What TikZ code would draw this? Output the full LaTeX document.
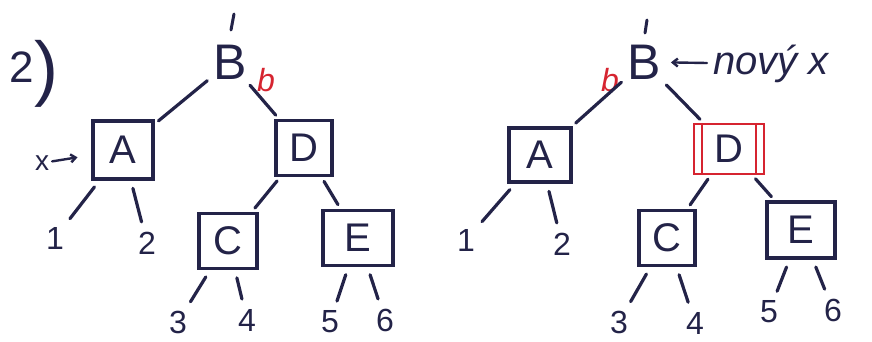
\documentclass[tikz,border=0pt]{standalone}
\usepackage{fontspec}
\setmainfont{Liberation Sans}
\usetikzlibrary{arrows.meta}
\definecolor{ink}{RGB}{35,35,72}
\definecolor{redink}{RGB}{214,36,48}
\begin{document}
\begin{tikzpicture}[x=1pt,y=-1pt,
  box/.style={draw=ink, line width=3.2pt, rectangle, inner sep=0pt, text=ink,
    font=\fontsize{40}{40}\selectfont},
  redbox/.style={draw=redink, line width=2.2pt, rectangle, inner sep=0pt, text=ink,
    font=\fontsize{40}{40}\selectfont},
  leaf/.style={text=ink, font=\fontsize{32}{32}\selectfont, inner sep=1pt},
  rootnode/.style={text=ink, font=\fontsize{50}{50}\selectfont, inner sep=2pt},
  edge/.style={draw=ink, line width=3.2pt, line cap=round, shorten >=5pt, shorten <=5pt},
  leafedge/.style={draw=ink, line width=3.2pt, line cap=round, shorten >=9pt, shorten <=8pt},
  tick/.style={draw=ink, line width=3pt, line cap=round},
  redlabel/.style={text=redink, font=\itshape\fontsize{32}{32}\selectfont, inner sep=0pt},
  note/.style={text=ink, font=\itshape\fontsize{40}{40}\selectfont, inner sep=1pt},
  pointer/.style={draw=ink, line width=2.4pt, line cap=round, -{Straight Barb[length=5pt,width=8pt]}},
]
\useasboundingbox (0,0) rectangle (872,341);

% ---------- left tree ----------
\node[text=ink, inner sep=1pt, font=\fontsize{44}{44}\selectfont] (num) at (34,74)
  {2\raisebox{-10pt}{\fontsize{72}{72}\selectfont )}};
\node[rootnode] (B) at (230,62) {B};
\coordinate (Bt1) at (234,14);
\coordinate (Bt2) at (231,30);
\draw[tick] (Bt1) -- (Bt2);
\node[redlabel] (bl) at (266,80) {b};

\node[box, minimum width=60pt, minimum height=58pt] (A) at (123,150) {A};
\node[box, minimum width=56pt, minimum height=55pt] (D) at (304,148) {D};
\node[box, minimum width=58pt, minimum height=55pt] (C) at (228,241) {C};
\node[box, minimum width=70pt, minimum height=55pt] (E) at (358,238) {E};

\node[leaf] (l1) at (55,238) {1};
\node[leaf] (l2) at (147,243) {2};
\node[leaf] (l3) at (178,322) {3};
\node[leaf] (l4) at (247,320) {4};
\node[leaf] (l5) at (330,322) {5};
\node[leaf] (l6) at (385,320) {6};

\node[text=ink, inner sep=1pt, font=\fontsize{28}{28}\selectfont] (xl) at (42,163) {x};
\draw[pointer, shorten <=2pt, shorten >=14pt] (xl) -- (A);

\draw[edge] (B) -- (A);
\draw[edge] (B) -- (D);
\draw[edge] (D) -- (C);
\draw[edge] (D) -- (E);
\draw[leafedge] (A) -- (l1);
\draw[leafedge] (A) -- (l2);
\draw[leafedge] (C) -- (l3);
\draw[leafedge] (C) -- (l4);
\draw[leafedge] (E) -- (l5);
\draw[leafedge] (E) -- (l6);

% ---------- right tree ----------
\node[rootnode] (B2) at (644,62) {B};
\coordinate (B2t1) at (647,20);
\coordinate (B2t2) at (645,33);
\draw[tick] (B2t1) -- (B2t2);
\node[redlabel] (bl2) at (610,80) {b};
\node[note, anchor=west] (nx) at (712,64) {nový x};
\draw[pointer, shorten <=5pt, shorten >=8pt] (nx) -- (B2);

\node[box, minimum width=62pt, minimum height=54pt] (A2) at (540,155) {A};
\node[redbox, minimum width=70pt, minimum height=50pt] (D2) at (729,149) {D};
\draw[draw=redink, line width=2.2pt] ([xshift=9pt]D2.north west) -- ([xshift=9pt]D2.south west);
\draw[draw=redink, line width=2.2pt] ([xshift=-9pt]D2.north east) -- ([xshift=-9pt]D2.south east);
\node[box, minimum width=56pt, minimum height=55pt] (C2) at (667,238) {C};
\node[box, minimum width=68pt, minimum height=56pt] (E2) at (801,230) {E};

\node[leaf] (r1) at (466,240) {1};
\node[leaf] (r2) at (562,244) {2};
\node[leaf] (r3) at (619,322) {3};
\node[leaf] (r4) at (695,323) {4};
\node[leaf] (r5) at (769,312) {5};
\node[leaf] (r6) at (833,310) {6};

\draw[edge] (B2) -- (A2);
\draw[edge] (B2) -- (D2);
\draw[edge] (D2) -- (C2);
\draw[edge] (D2) -- (E2);
\draw[leafedge] (A2) -- (r1);
\draw[leafedge] (A2) -- (r2);
\draw[leafedge] (C2) -- (r3);
\draw[leafedge] (C2) -- (r4);
\draw[leafedge] (E2) -- (r5);
\draw[leafedge] (E2) -- (r6);
\end{tikzpicture}
\end{document}
